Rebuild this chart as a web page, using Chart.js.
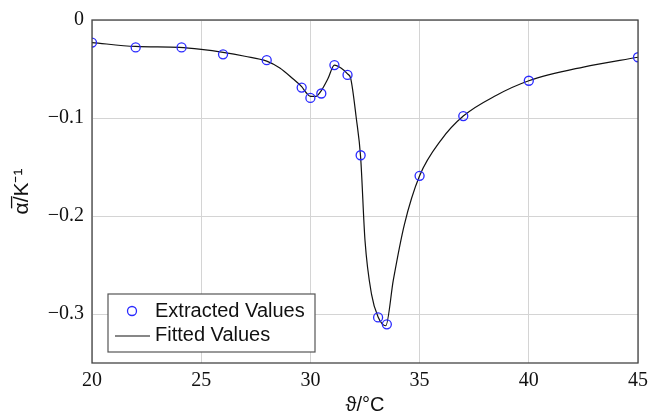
<!DOCTYPE html>
<html>
<head>
<meta charset="utf-8">
<script src="https://cdn.jsdelivr.net/npm/chart.js@4.4.1/dist/chart.umd.min.js"></script>
<style>
    html, body { margin: 0; padding: 0; background: #fff; }
    #wrap { width: 654px; height: 420px; }
</style>
</head>
<body>
<div id="wrap"><canvas id="chart" width="654" height="420"></canvas></div>
<script>
// Extracted (measured) values
const extractedTemp = [20, 22, 24.1, 26, 28, 29.6, 30, 30.5, 31.1, 31.7, 32.3, 33.1, 33.5, 35, 37, 40, 45];
const extractedAlpha = [-0.023, -0.028, -0.028, -0.035, -0.041, -0.069, -0.0795, -0.075, -0.046, -0.056, -0.138, -0.3035, -0.3105, -0.159, -0.098, -0.062, -0.038];

// Fitted curve
const fittedTemp = [20, 22, 24, 25, 26, 27, 28, 28.6, 29.2, 29.6, 29.8, 30, 30.25, 30.5, 30.8, 31.1, 31.4, 31.7, 31.85, 32.1, 32.3, 32.5, 32.8, 33.1, 33.45, 33.8, 34.3, 35, 36, 37, 38.5, 40, 42.5, 45];
const fittedAlpha = [-0.023, -0.027, -0.028, -0.03, -0.033, -0.037, -0.042, -0.049, -0.06, -0.068, -0.074, -0.078, -0.078, -0.072, -0.06, -0.046, -0.049, -0.055, -0.06, -0.10, -0.14, -0.225, -0.28, -0.303, -0.312, -0.265, -0.209, -0.159, -0.122, -0.098, -0.077, -0.062, -0.048, -0.038];

// Axis ticks
const xTicks = [20, 25, 30, 35, 40, 45];
const yTicks = [0, -0.1, -0.2, -0.3];

const tickFont = { family: 'Liberation Serif', size: 20 };
const gridColor = '#d4d4d4';
const frameColor = '#444';

// Frame round the plot area and legend box inside it
const framePlugin = {
    id: 'frame',
    afterDatasetsDraw(chart) {
        const { ctx, chartArea: a } = chart;
        ctx.save();
        ctx.strokeStyle = frameColor;
        ctx.lineWidth = 1.3;
        ctx.strokeRect(a.left, a.top, a.right - a.left, a.bottom - a.top);

        // legend
        const lx = 108, ly = 294, lw = 207, lh = 58;
        ctx.fillStyle = '#fff';
        ctx.fillRect(lx, ly, lw, lh);
        ctx.strokeStyle = '#555';
        ctx.lineWidth = 1.2;
        ctx.strokeRect(lx, ly, lw, lh);

        const ds = chart.data.datasets;
        ctx.beginPath();
        ctx.arc(lx + 24, ly + 17, 4.5, 0, Math.PI * 2);
        ctx.strokeStyle = ds[0].borderColor;
        ctx.lineWidth = ds[0].borderWidth;
        ctx.stroke();

        ctx.beginPath();
        ctx.moveTo(lx + 7, ly + 42);
        ctx.lineTo(lx + 42, ly + 42);
        ctx.strokeStyle = ds[1].borderColor;
        ctx.lineWidth = ds[1].borderWidth;
        ctx.stroke();

        ctx.fillStyle = '#111';
        ctx.font = '20px "Liberation Sans"';
        ctx.textBaseline = 'middle';
        ctx.fillText(ds[0].label, lx + 47, ly + 17);
        ctx.fillText(ds[1].label, lx + 47, ly + 41);
        ctx.restore();
    }
};

new Chart(document.getElementById('chart'), {
    type: 'scatter',
    data: {
        datasets: [
            {
                label: 'Extracted Values',
                data: extractedTemp.map((t, i) => ({ x: t, y: extractedAlpha[i] })),
                showLine: false,
                pointStyle: 'circle',
                pointRadius: 4.5,
                pointBorderWidth: 1.3,
                borderColor: '#2a2aff',
                backgroundColor: 'rgba(0,0,0,0)',
                borderWidth: 1.3,
                order: 0
            },
            {
                label: 'Fitted Values',
                data: fittedTemp.map((t, i) => ({ x: t, y: fittedAlpha[i] })),
                showLine: true,
                pointRadius: 0,
                borderColor: '#111',
                borderWidth: 1.2,
                cubicInterpolationMode: 'monotone',
                order: 1
            }
        ]
    },
    plugins: [framePlugin],
    options: {
        responsive: false,
        animation: false,
        layout: { padding: { top: 17, right: 12, left: 0, bottom: 0 } },
        scales: {
            x: {
                type: 'linear',
                min: 20,
                max: 45,
                afterBuildTicks: s => { s.ticks = xTicks.map(v => ({ value: v })); },
                afterFit: s => { s.height = 57; },
                grid: { color: gridColor, lineWidth: 1, drawTicks: false },
                border: { display: false },
                ticks: { font: tickFont, color: '#111', padding: 6 },
                title: {
                    display: true,
                    text: 'ϑ/°C',
                    font: { family: 'Liberation Sans', size: 20 },
                    color: '#111',
                    padding: { top: 0, bottom: 3 }
                }
            },
            y: {
                type: 'linear',
                min: -0.35,
                max: 0,
                afterBuildTicks: s => { s.ticks = yTicks.map(v => ({ value: v })); },
                afterFit: s => { s.width = 92; },
                grid: { color: gridColor, lineWidth: 1, drawTicks: false },
                border: { display: false },
                ticks: {
                    font: tickFont,
                    color: '#111',
                    padding: 8,
                    callback: v => (v === 0 ? '0' : '\u2212' + Math.abs(v).toFixed(1))
                },
                title: {
                    display: true,
                    text: 'α\u0305/K\u207B\u00B9',
                    font: { family: 'Liberation Sans', size: 21 },
                    color: '#111',
                    padding: { top: 10, bottom: 0 }
                }
            }
        },
        plugins: {
            legend: { display: false },
            tooltip: { enabled: false }
        }
    }
});
</script>
</body>
</html>
